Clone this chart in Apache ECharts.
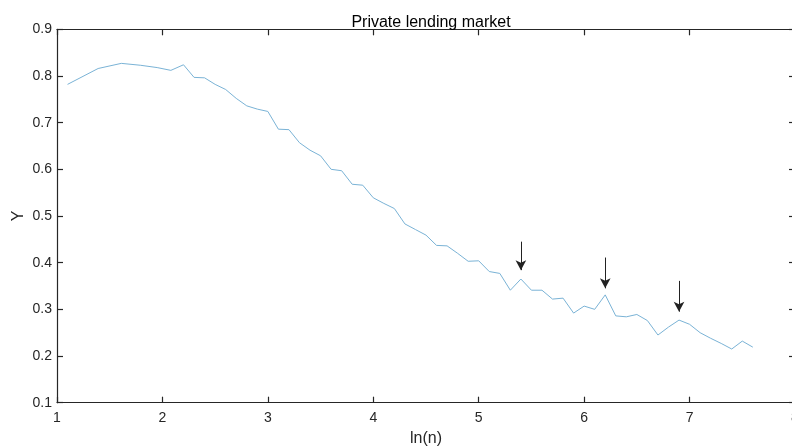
<!DOCTYPE html>
<html>
<head>
<meta charset="utf-8">
<script src="https://cdn.jsdelivr.net/npm/echarts@6/dist/echarts.min.js"></script>
<style>html,body{margin:0;padding:0;background:#fff}#c{width:792px;height:447px}</style>
</head>
<body>
<div id="c"></div>
<script>
const titleText = 'Private lending market';
const xName = 'ln(n)';
const yName = 'Y';
const xTicks = [1, 2, 3, 4, 5, 6, 7, 8];
const yTicks = [0.1, 0.2, 0.3, 0.4, 0.5, 0.6, 0.7, 0.8, 0.9];
const lnN = [1.1, 1.39, 1.61, 1.79, 1.95, 2.08, 2.2, 2.3, 2.4, 2.5, 2.6, 2.7, 2.8, 2.9, 3.0, 3.1, 3.2, 3.3, 3.4, 3.5, 3.6, 3.7, 3.8, 3.9, 4.0, 4.1, 4.2, 4.3, 4.4, 4.5, 4.6, 4.7, 4.8, 4.9, 5.0, 5.1, 5.2, 5.3, 5.4, 5.5, 5.6, 5.7, 5.8, 5.9, 6.0, 6.1, 6.2, 6.3, 6.4, 6.5, 6.6, 6.7, 6.8, 6.9, 7.0, 7.1, 7.2, 7.3, 7.4, 7.5, 7.6];
const yVals = [0.782, 0.816, 0.827, 0.823, 0.818, 0.812, 0.824, 0.797, 0.796, 0.782, 0.771, 0.752, 0.736, 0.729, 0.724, 0.686, 0.685, 0.657, 0.641, 0.629, 0.600, 0.597, 0.568, 0.566, 0.539, 0.527, 0.516, 0.483, 0.471, 0.459, 0.437, 0.436, 0.420, 0.403, 0.404, 0.381, 0.377, 0.341, 0.365, 0.341, 0.341, 0.322, 0.324, 0.292, 0.307, 0.300, 0.331, 0.286, 0.284, 0.289, 0.276, 0.245, 0.262, 0.277, 0.268, 0.250, 0.238, 0.227, 0.215, 0.232, 0.219];
const arrowX = [5.4, 6.2, 6.9];
const arrowTop = [0.445, 0.411, 0.361];
const arrowTip = [0.384, 0.345, 0.295];

const FONT = '"Liberation Sans", Arial, Helvetica, sans-serif';
const AX = '#262626';
const chart = echarts.init(document.getElementById('c'), null, {renderer: 'canvas'});

const axisBase = {
  type: 'value',
  min: xTicks[0], max: xTicks[xTicks.length - 1], interval: 1,
  splitLine: {show: false},
  axisLine: {show: true, onZero: false, lineStyle: {color: AX, width: 1.2}},
  axisTick: {show: true, inside: true, length: 6, lineStyle: {color: AX, width: 1.2}}
};
const yBase = {
  type: 'value',
  min: yTicks[0], max: yTicks[yTicks.length - 1], interval: 0.1,
  splitLine: {show: false},
  axisLine: {show: true, onZero: false, lineStyle: {color: AX, width: 1.2}},
  axisTick: {show: true, inside: true, length: 6, lineStyle: {color: AX, width: 1.2}}
};

const markData = arrowX.map((x, i) => [
  {coord: [x, arrowTop[i]]},
  {coord: [x, arrowTip[i]]}
]);

chart.setOption({
  animation: false,
  backgroundColor: '#fff',
  title: {
    text: titleText, left: 426, top: 10, textAlign: 'center',
    textStyle: {fontFamily: FONT, fontSize: 16, fontWeight: 'normal', color: '#000'}
  },
  graphic: [{
    type: 'text', x: 19, y: 216, rotation: Math.PI / 2,
    style: {text: yName, align: 'center', verticalAlign: 'middle',
      font: '16px ' + FONT, fill: AX}
  }],
  grid: {left: 57, right: -3, top: 29.3, bottom: 44.3, containLabel: false, outerBoundsMode: 'none'},
  xAxis: [
    Object.assign({}, axisBase, {
      position: 'bottom', name: xName, nameLocation: 'middle', nameGap: 28,
      nameTextStyle: {fontFamily: FONT, fontSize: 16, color: AX},
      axisLabel: {show: true, margin: 8, fontFamily: FONT, fontSize: 14, color: AX,
        hideOverlap: false, formatter: v => String(v)}
    }),
    Object.assign({}, axisBase, {position: 'top', axisLabel: {show: false}})
  ],
  yAxis: [
    Object.assign({}, yBase, {
      position: 'left',
      axisLabel: {show: true, margin: 5, fontFamily: FONT, fontSize: 14, color: AX,
        formatter: v => v.toFixed(1)}
    }),
    Object.assign({}, yBase, {position: 'right', axisLabel: {show: false}})
  ],
  series: [{
    type: 'line',
    xAxisIndex: 0, yAxisIndex: 0,
    data: lnN.map((x, i) => [x, yVals[i]]),
    showSymbol: false,
    lineStyle: {color: '#7ab3d6', width: 1},
    markLine: {
      silent: true,
      symbol: ['none', 'arrow'],
      symbolSize: [8, 10],
      label: {show: false},
      lineStyle: {color: '#222', width: 1, type: 'solid'},
      data: markData
    }
  }]
});
</script>
</body>
</html>
